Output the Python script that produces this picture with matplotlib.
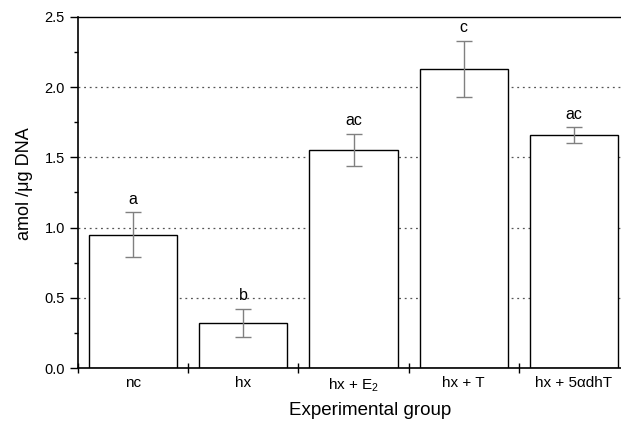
"""
Bar chart: amol / ug DNA per experimental group
"""
import matplotlib

matplotlib.use("Agg")
import matplotlib.pyplot as plt  # noqa:E402
import numpy as np  # noqa:E402

# data
groups = ["nc", "hx", "hx + E$_2$", "hx + T", "hx + 5αdhT"]
means = [0.95, 0.32, 1.555, 2.13, 1.66]
errors = [0.16, 0.10, 0.115, 0.20, 0.055]
letters = ["a", "b", "ac", "c", "ac"]


def main():
    plt.rcParams["font.family"] = ["Liberation Sans", "DejaVu Sans"]
    plt.rcParams["mathtext.default"] = "regular"

    fig = plt.figure(figsize=(6.21, 4.25), dpi=100)
    ax = fig.add_axes([78 / 621, 57 / 425, 551 / 621, 351 / 425])

    x = np.arange(len(groups))

    # dotted grid behind the bars
    for yv in [0.5, 1.0, 1.5, 2.0]:
        ax.axhline(yv, color="#555555", ls=(0, (1.5, 3)), lw=0.9, zorder=0)

    ax.bar(x, means, width=0.8, color="white", edgecolor="black", lw=1.0, zorder=2)
    eb = ax.errorbar(
        x, means, yerr=errors, fmt="none", ecolor="#808080", elinewidth=1.0,
        capsize=5.5, capthick=1.0, zorder=3,
    )
    for cap in eb[1]:
        cap.set_color("black")

    for xi, m, e, lab in zip(x, means, errors, letters):
        ax.text(xi, m + e + 0.04, lab, ha="center", va="bottom", fontsize=11.5)

    ax.set_xlim(-0.5, len(groups) - 0.5)
    ax.set_ylim(0, 2.5)

    # ticks between groups, labels at the bar centres
    ax.set_xticks(np.arange(-0.5, len(groups), 1.0))
    ax.set_xticklabels([])
    ax.set_xticks(x, minor=True)
    ax.set_xticklabels(groups, minor=True, fontsize=11)
    ax.tick_params(axis="x", which="major", direction="inout", length=7, width=1)
    ax.tick_params(axis="x", which="minor", length=0, pad=6)

    ax.set_yticks(np.arange(0, 2.51, 0.5))
    ax.set_yticklabels([f"{v:.1f}" for v in np.arange(0, 2.51, 0.5)], fontsize=10.5)
    ax.set_yticks(np.arange(0.25, 2.5, 0.5), minor=True)
    ax.tick_params(axis="y", which="major", direction="out", length=6, width=1)
    ax.tick_params(axis="y", which="minor", direction="out", length=3, width=1)

    ax.spines["right"].set_visible(False)
    ax.spines["left"].set_linewidth(1.2)
    ax.spines["bottom"].set_linewidth(1.2)
    ax.spines["top"].set_linewidth(1.0)

    ax.set_xlabel("Experimental group", fontsize=13.5)
    ax.xaxis.set_label_coords(0.53, -0.097)
    ax.set_ylabel("amol /μg DNA", fontsize=13)
    ax.yaxis.set_label_coords(-0.082, 0.524)

    fig.savefig("out.png", dpi=100)
    plt.close(fig)


if __name__ == "__main__":
    main()
